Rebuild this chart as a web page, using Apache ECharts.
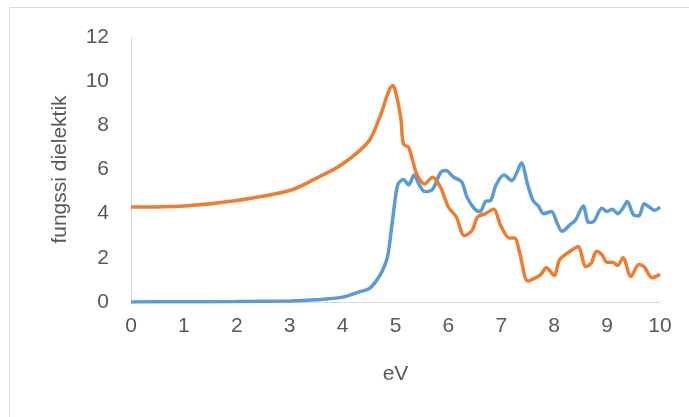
<!DOCTYPE html>
<html>
<head>
<meta charset="utf-8">
<script src="https://cdn.jsdelivr.net/npm/echarts@6/dist/echarts.min.js"></script>
<style>
  html, body { margin: 0; padding: 0; background: #fff; }
  #main { width: 689px; height: 417px; }
</style>
</head>
<body>
<div id="main"></div>
<script>
// nilai
var blueX = [0, 1, 2, 3, 3.5, 4, 4.3, 4.5, 4.65, 4.75, 4.85, 4.92, 5.0, 5.05, 5.15, 5.25, 5.35, 5.45, 5.55, 5.7, 5.85, 5.95, 6.1, 6.25, 6.35, 6.5, 6.6, 6.7, 6.8, 6.9, 7.05, 7.2, 7.3, 7.38, 7.5, 7.6, 7.7, 7.8, 7.95, 8.05, 8.15, 8.3, 8.4, 8.55, 8.65, 8.75, 8.9, 9.0, 9.1, 9.2, 9.3, 9.38, 9.5, 9.6, 9.7, 9.8, 9.9, 10];
var blueY = [0, 0.01, 0.02, 0.05, 0.1, 0.22, 0.45, 0.6, 1.0, 1.4, 2.05, 3.25, 4.75, 5.35, 5.55, 5.3, 5.75, 5.3, 5.0, 5.1, 5.85, 5.95, 5.65, 5.45, 4.75, 4.2, 4.1, 4.55, 4.6, 5.3, 5.75, 5.5, 5.9, 6.3, 5.3, 4.6, 4.35, 4.0, 4.1, 3.6, 3.2, 3.5, 3.7, 4.35, 3.6, 3.65, 4.25, 4.1, 4.2, 4.0, 4.25, 4.55, 3.95, 3.9, 4.45, 4.3, 4.15, 4.3];

var orangeX = [0, 1, 2, 3, 3.5, 4, 4.5, 4.7, 4.95, 5.0, 5.1, 5.15, 5.25, 5.4, 5.55, 5.7, 5.85, 6.0, 6.15, 6.3, 6.45, 6.55, 6.7, 6.85, 7.0, 7.15, 7.25, 7.35, 7.5, 7.65, 7.75, 7.85, 8.0, 8.1, 8.3, 8.45, 8.6, 8.7, 8.8, 8.9, 9.0, 9.1, 9.2, 9.3, 9.45, 9.6, 9.7, 9.85, 10];
var orangeY = [4.3, 4.35, 4.6, 5.05, 5.6, 6.25, 7.3, 8.35, 9.8, 9.55, 8.35, 7.15, 7.0, 5.8, 5.35, 5.65, 5.2, 4.3, 3.85, 3.0, 3.25, 3.85, 4.0, 4.2, 3.4, 2.9, 2.9, 2.2, 0.95, 1.1, 1.25, 1.55, 1.2, 1.9, 2.3, 2.5, 1.6, 1.75, 2.3, 2.15, 1.8, 1.8, 1.65, 2.0, 1.15, 1.7, 1.6, 1.1, 1.25];

var xTicks = [0, 1, 2, 3, 4, 5, 6, 7, 8, 9, 10];
var yTicks = [0, 2, 4, 6, 8, 10, 12];

function pairs(xs, ys) {
    var out = [];
    for (var i = 0; i < xs.length; i++) out.push([xs[i], ys[i]]);
    return out;
}

var myChart = echarts.init(document.getElementById('main'));
var font = 'Liberation Sans';

myChart.setOption({
    animation: false,
    graphic: [{
        type: 'rect',
        shape: { x: 9.5, y: 7.5, width: 690, height: 420 },
        style: { fill: 'none', stroke: '#d9d9d9', lineWidth: 1 },
        silent: true
    }],
    grid: { left: 131, right: 29, top: 37, bottom: 115 },
    xAxis: {
        type: 'value',
        min: xTicks[0],
        max: xTicks[xTicks.length - 1],
        interval: 1,
        name: 'eV',
        nameLocation: 'middle',
        nameGap: 62,
        nameTextStyle: { fontFamily: font, fontSize: 21, color: '#595959' },
        axisLine: { lineStyle: { color: '#d9d9d9', width: 1 } },
        axisTick: { show: false },
        splitLine: { show: false },
        axisLabel: { fontFamily: font, fontSize: 21, color: '#595959', margin: 14 }
    },
    yAxis: {
        type: 'value',
        min: yTicks[0],
        max: yTicks[yTicks.length - 1],
        interval: 2,
        name: 'fungssi dielektik',
        nameLocation: 'middle',
        nameGap: 60,
        nameRotate: 90,
        nameTextStyle: { fontFamily: font, fontSize: 21, color: '#595959' },
        axisLine: { show: true, lineStyle: { color: '#d9d9d9', width: 1 } },
        axisTick: { show: false },
        splitLine: { show: false },
        axisLabel: { fontFamily: font, fontSize: 21, color: '#595959', margin: 22 }
    },
    series: [{
        type: 'line',
        data: pairs(blueX, blueY),
        smooth: 0.3,
        showSymbol: false,
        lineStyle: { color: '#5b9bd5', width: 3.5 },
        itemStyle: { color: '#5b9bd5' }
    }, {
        type: 'line',
        data: pairs(orangeX, orangeY),
        smooth: 0.3,
        showSymbol: false,
        lineStyle: { color: '#ed7d31', width: 3.5 },
        itemStyle: { color: '#ed7d31' }
    }]
});
</script>
</body>
</html>
